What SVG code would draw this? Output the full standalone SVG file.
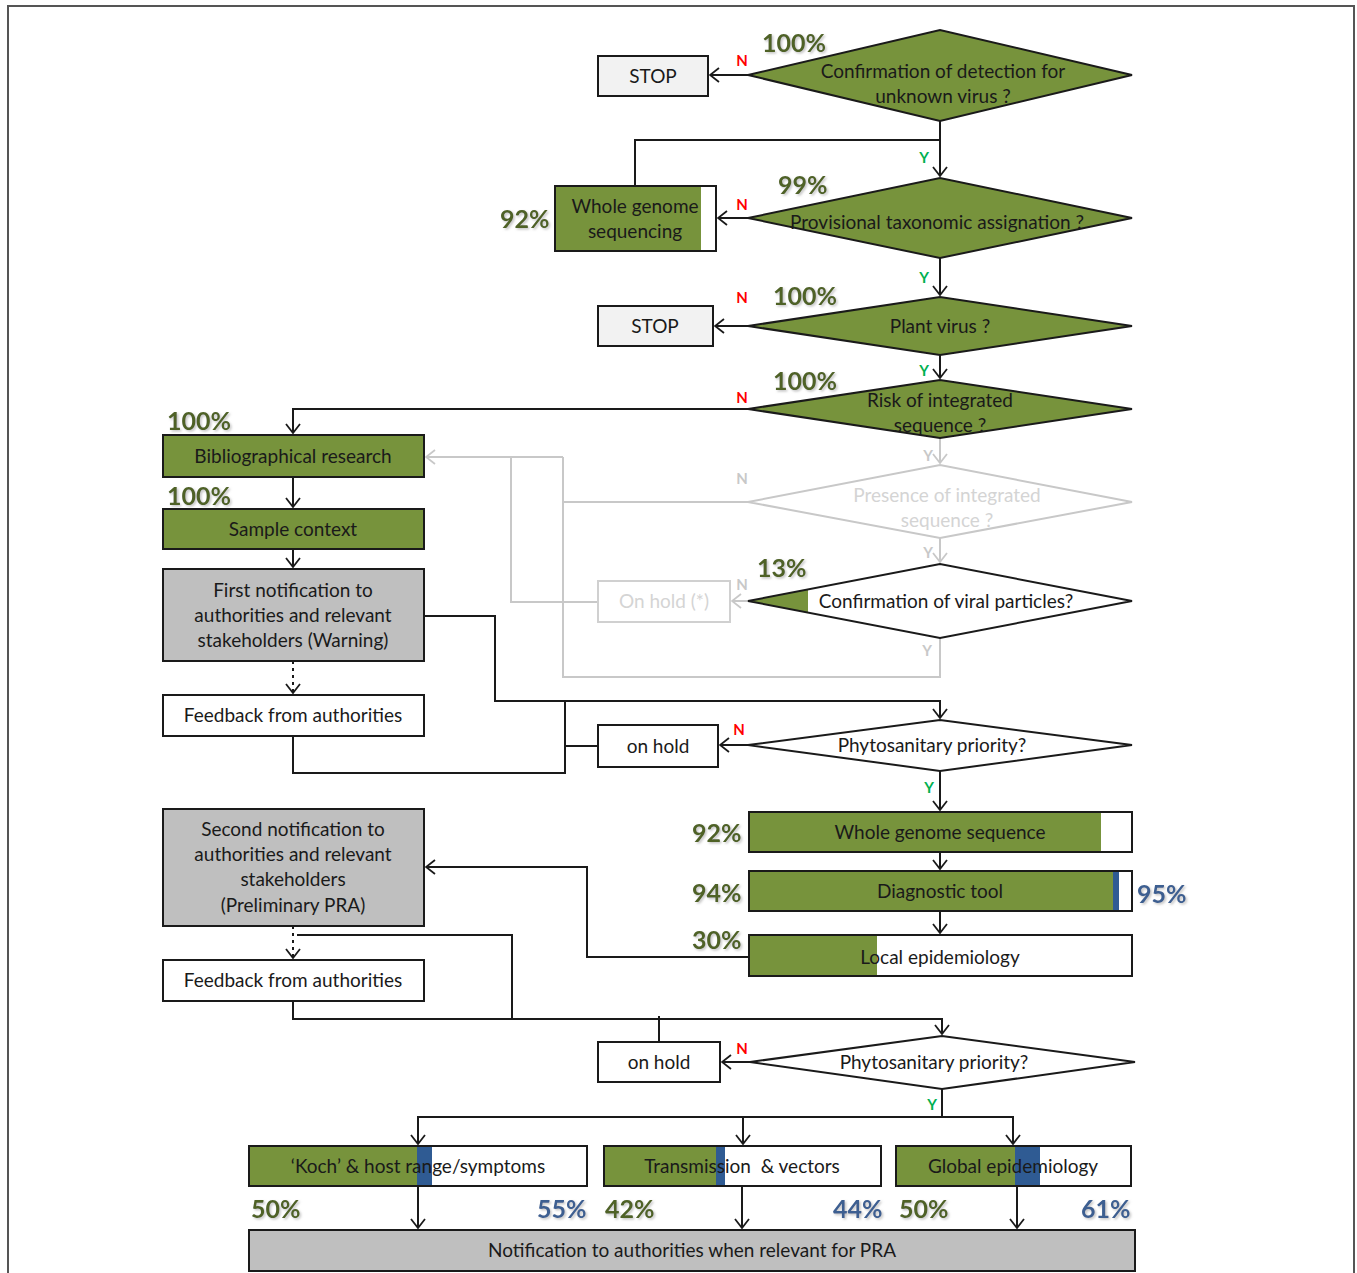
<svg xmlns="http://www.w3.org/2000/svg" width="1357" height="1273" viewBox="0 0 1357 1273">
<defs>
<style>
.t{font-family:Lato,"Open Sans","Liberation Sans",sans-serif;font-size:19px;fill:#1a1a1a;text-anchor:middle}
.tg{font-family:Lato,"Open Sans","Liberation Sans",sans-serif;font-size:19px;fill:#d4d4d4;text-anchor:middle}
.p{font-family:Lato,"Open Sans","Liberation Sans",sans-serif;font-size:25px;font-weight:bold;fill:#4f6228;filter:url(#sh)}
.pb{font-family:Lato,"Open Sans","Liberation Sans",sans-serif;font-size:25px;font-weight:bold;fill:#3d5f91;filter:url(#sh)}
.n{font-family:Lato,"Liberation Sans",sans-serif;font-size:15px;font-weight:bold;fill:#ff0000;text-anchor:middle}
.y{font-family:Lato,"Liberation Sans",sans-serif;font-size:15px;font-weight:bold;fill:#00b050;text-anchor:middle}
.ng{font-family:Lato,"Liberation Sans",sans-serif;font-size:15px;font-weight:bold;fill:#c8c8c8;text-anchor:middle}
.b{stroke:#1a1a1a;stroke-width:2}
.g{fill:#77933c}
.bl{fill:#2f5b93}
.c{fill:none;stroke:#1a1a1a;stroke-width:2}
.cg{fill:none;stroke:#c8c8c8;stroke-width:2}
</style>
<filter id="sh" x="-10%" y="-10%" width="130%" height="140%">
<feDropShadow dx="1.5" dy="1.5" stdDeviation="1" flood-color="#999" flood-opacity="0.6"/>
</filter>
<marker id="a" viewBox="0 0 11 16" refX="10" refY="8" markerWidth="11" markerHeight="16" markerUnits="userSpaceOnUse" orient="auto">
<path d="M1,1 L10,8 L1,15" fill="none" stroke="#1a1a1a" stroke-width="1.8"/>
</marker>
<marker id="ag" viewBox="0 0 11 16" refX="10" refY="8" markerWidth="11" markerHeight="16" markerUnits="userSpaceOnUse" orient="auto">
<path d="M1,1 L10,8 L1,15" fill="none" stroke="#c8c8c8" stroke-width="1.8"/>
</marker>
</defs>
<rect x="0" y="0" width="1357" height="1273" fill="#ffffff"/>
<rect x="8" y="6" width="1346" height="1280" fill="none" stroke="#555" stroke-width="2"/>

<g id="connectors">
<!-- grey connectors -->
<path class="cg" d="M563,457 H426" marker-end="url(#ag)"/>
<path class="cg" d="M598,602 H511 V457"/>
<path class="cg" d="M748,502 H563"/>
<path class="cg" d="M563,457 V677 H940 V638"/>
<path class="cg" d="M940,438 V463" marker-end="url(#ag)"/>
<path class="cg" d="M940,538 V562" marker-end="url(#ag)"/>
<path class="cg" d="M748,601 H732" marker-end="url(#ag)"/>
<!-- black connectors -->
<path class="c" d="M748,75 H710" marker-end="url(#a)"/>
<path class="c" d="M940,121 V176" marker-end="url(#a)"/>
<path class="c" d="M635,186 V140 H940"/>
<path class="c" d="M748,218 H718" marker-end="url(#a)"/>
<path class="c" d="M940,258 V295" marker-end="url(#a)"/>
<path class="c" d="M748,326 H715" marker-end="url(#a)"/>
<path class="c" d="M940,355 V378" marker-end="url(#a)"/>
<path class="c" d="M748,409 H293 V433" marker-end="url(#a)"/>
<path class="c" d="M293,477 V507" marker-end="url(#a)"/>
<path class="c" d="M293,549 V567" marker-end="url(#a)"/>
<path class="c" d="M293,661 V693" stroke-dasharray="3,4" marker-end="url(#a)"/>
<path class="c" d="M424,616 H495 V701 H940 V718" marker-end="url(#a)"/>
<path class="c" d="M293,736 V773 H565 V701"/>
<path class="c" d="M598,746 H565"/>
<path class="c" d="M748,745 H720" marker-end="url(#a)"/>
<path class="c" d="M940,771 V810" marker-end="url(#a)"/>
<path class="c" d="M940,852 V869" marker-end="url(#a)"/>
<path class="c" d="M940,911 V933" marker-end="url(#a)"/>
<path class="c" d="M749,957 H587 V867 H426" marker-end="url(#a)"/>
<path class="c" d="M293,926 V958" stroke-dasharray="3,4" marker-end="url(#a)"/>
<path class="c" d="M297,935 H512 V1019"/>
<path class="c" d="M293,1001 V1019 H942 V1034" marker-end="url(#a)"/>
<path class="c" d="M659,1042 V1016"/>
<path class="c" d="M750,1062 H722" marker-end="url(#a)"/>
<path class="c" d="M942,1089 V1117"/>
<path class="c" d="M418,1144 V1117 H1013 V1144" marker-end="url(#a)"/>
<path class="c" d="M418,1117 V1144" marker-end="url(#a)"/>
<path class="c" d="M743,1117 V1144" marker-end="url(#a)"/>
<path class="c" d="M418,1186 V1228" marker-end="url(#a)"/>
<path class="c" d="M742,1186 V1228" marker-end="url(#a)"/>
<path class="c" d="M1017,1186 V1228" marker-end="url(#a)"/>
<!-- N / Y labels -->
<text class="n" x="742" y="66">N</text>
<text class="y" x="924" y="163">Y</text>
<text class="n" x="742" y="210">N</text>
<text class="y" x="924" y="283">Y</text>
<text class="n" x="742" y="303">N</text>
<text class="y" x="924" y="376">Y</text>
<text class="n" x="742" y="403">N</text>
<text class="ng" x="928" y="461">Y</text>
<text class="ng" x="742" y="484">N</text>
<text class="ng" x="928" y="558">Y</text>
<text class="ng" x="742" y="590">N</text>
<text class="ng" x="927" y="656">Y</text>
<text class="n" x="739" y="735">N</text>
<text class="y" x="929" y="793">Y</text>
<text class="n" x="742" y="1054">N</text>
<text class="y" x="932" y="1110">Y</text>
</g>

<g id="d1">
<polygon class="g b" points="748,75 940,30 1132,75 940,121"/>
<text class="t" x="943" y="78">Confirmation of detection for</text>
<text class="t" x="943" y="103">unknown virus ?</text>
<text class="p" x="762" y="52">100%</text>
</g>
<g id="stop1">
<rect x="598" y="56" width="110" height="40" fill="#f2f2f2" stroke="#1a1a1a" stroke-width="2"/>
<text class="t" x="653" y="83">STOP</text>
</g>
<g id="d2">
<polygon class="g b" points="748,218 940,178 1132,218 940,258"/>
<text class="t" x="937" y="229">Provisional taxonomic assignation ?</text>
<text class="p" x="778" y="194">99%</text>
</g>
<g id="wgs1">
<rect x="555" y="186" width="161" height="65" fill="#ffffff"/>
<rect x="555" y="186" width="146" height="65" class="g"/>
<rect x="555" y="186" width="161" height="65" fill="none" stroke="#1a1a1a" stroke-width="2"/>
<text class="t" x="635" y="213">Whole genome</text>
<text class="t" x="635" y="238">sequencing</text>
<text class="p" x="500" y="228">92%</text>
</g>
<g id="d3">
<polygon class="g b" points="748,326 940,297 1132,326 940,355"/>
<text class="t" x="940" y="333">Plant virus ?</text>
<text class="p" x="773" y="305">100%</text>
</g>
<g id="stop2">
<rect x="598" y="306" width="115" height="40" fill="#f2f2f2" stroke="#1a1a1a" stroke-width="2"/>
<text class="t" x="655" y="333">STOP</text>
</g>
<g id="d4">
<polygon class="g b" points="748,409 940,380 1132,409 940,438"/>
<text class="t" x="940" y="407">Risk of integrated</text>
<text class="t" x="940" y="432">sequence ?</text>
<text class="p" x="773" y="390">100%</text>
</g>
<g id="d5">
<polygon points="748,502 940,465 1132,502 940,538" fill="#ffffff" stroke="#c8c8c8" stroke-width="2"/>
<text class="tg" x="947" y="502">Presence of integrated</text>
<text class="tg" x="947" y="527">sequence ?</text>
</g>
<g id="d6">
<polygon points="748,601 940,564 1132,601 940,638" fill="#ffffff"/>
<polygon points="748,601 808,589.4 808,612.6" class="g"/>
<polygon points="748,601 940,564 1132,601 940,638" fill="none" stroke="#1a1a1a" stroke-width="2"/>
<text class="t" x="946" y="608">Confirmation of viral particles?</text>
<text class="p" x="757" y="577">13%</text>
</g>
<g id="onholdstar">
<rect x="598" y="581" width="132" height="41" fill="#ffffff" stroke="#d0d0d0" stroke-width="2"/>
<text class="tg" x="664" y="608">On hold (*)</text>
</g>
<g id="bib">
<rect x="163" y="435" width="261" height="42" class="g b"/>
<text class="t" x="293" y="463">Bibliographical research</text>
<text class="p" x="167" y="430">100%</text>
</g>
<g id="sample">
<rect x="163" y="509" width="261" height="40" class="g b"/>
<text class="t" x="293" y="536">Sample context</text>
<text class="p" x="167" y="505">100%</text>
</g>
<g id="notif1">
<rect x="163" y="569" width="261" height="92" fill="#bfbfbf" stroke="#1a1a1a" stroke-width="2"/>
<text class="t" x="293" y="597">First notification to</text>
<text class="t" x="293" y="622">authorities and relevant</text>
<text class="t" x="293" y="647">stakeholders (Warning)</text>
</g>
<g id="feedback1">
<rect x="163" y="695" width="261" height="41" fill="#ffffff" stroke="#1a1a1a" stroke-width="2"/>
<text class="t" x="293" y="722">Feedback from authorities</text>
</g>
<g id="d7">
<polygon points="748,745 940,720 1132,745 940,771" fill="#ffffff" stroke="#1a1a1a" stroke-width="2"/>
<text class="t" x="932" y="752">Phytosanitary priority?</text>
</g>
<g id="onhold1">
<rect x="598" y="725" width="120" height="42" fill="#ffffff" stroke="#1a1a1a" stroke-width="2"/>
<text class="t" x="658" y="753">on hold</text>
</g>
<g id="wgs2">
<rect x="749" y="812" width="383" height="40" fill="#ffffff"/>
<rect x="749" y="812" width="352" height="40" class="g"/>
<rect x="749" y="812" width="383" height="40" fill="none" stroke="#1a1a1a" stroke-width="2"/>
<text class="t" x="940" y="839">Whole genome sequence</text>
<text class="p" x="692" y="842">92%</text>
</g>
<g id="diag">
<rect x="749" y="871" width="383" height="40" fill="#ffffff"/>
<rect x="749" y="871" width="364" height="40" class="g"/>
<rect x="1113" y="871" width="6" height="40" class="bl"/>
<rect x="749" y="871" width="383" height="40" fill="none" stroke="#1a1a1a" stroke-width="2"/>
<text class="t" x="940" y="898">Diagnostic tool</text>
<text class="p" x="692" y="902">94%</text>
<text class="pb" x="1137" y="903">95%</text>
</g>
<g id="localepi">
<rect x="749" y="935" width="383" height="41" fill="#ffffff"/>
<rect x="749" y="935" width="128" height="41" class="g"/>
<rect x="749" y="935" width="383" height="41" fill="none" stroke="#1a1a1a" stroke-width="2"/>
<text class="t" x="940" y="964">Local epidemiology</text>
<text class="p" x="692" y="949">30%</text>
</g>
<g id="notif2">
<rect x="163" y="809" width="261" height="117" fill="#bfbfbf" stroke="#1a1a1a" stroke-width="2"/>
<text class="t" x="293" y="836">Second notification to</text>
<text class="t" x="293" y="861">authorities and relevant</text>
<text class="t" x="293" y="886">stakeholders</text>
<text class="t" x="293" y="912">(Preliminary PRA)</text>
</g>
<g id="feedback2">
<rect x="163" y="960" width="261" height="41" fill="#ffffff" stroke="#1a1a1a" stroke-width="2"/>
<text class="t" x="293" y="987">Feedback from authorities</text>
</g>
<g id="d8">
<polygon points="750,1062 942,1036 1135,1062 942,1089" fill="#ffffff" stroke="#1a1a1a" stroke-width="2"/>
<text class="t" x="934" y="1069">Phytosanitary priority?</text>
</g>
<g id="onhold2">
<rect x="598" y="1042" width="122" height="40" fill="#ffffff" stroke="#1a1a1a" stroke-width="2"/>
<text class="t" x="659" y="1069">on hold</text>
</g>
<g id="koch">
<rect x="249" y="1146" width="338" height="40" fill="#ffffff"/>
<rect x="249" y="1146" width="168" height="40" class="g"/>
<rect x="417" y="1146" width="15" height="40" class="bl"/>
<rect x="249" y="1146" width="338" height="40" fill="none" stroke="#1a1a1a" stroke-width="2"/>
<text class="t" x="418" y="1173">‘Koch’ &amp; host range/symptoms</text>
<text class="p" x="251" y="1218">50%</text>
<text class="pb" x="537" y="1218">55%</text>
</g>
<g id="transmission">
<rect x="604" y="1146" width="277" height="40" fill="#ffffff"/>
<rect x="604" y="1146" width="112" height="40" class="g"/>
<rect x="716" y="1146" width="9" height="40" class="bl"/>
<rect x="604" y="1146" width="277" height="40" fill="none" stroke="#1a1a1a" stroke-width="2"/>
<text class="t" x="742" y="1173" xml:space="preserve">Transmission  &amp; vectors</text>
<text class="p" x="605" y="1218">42%</text>
<text class="pb" x="833" y="1218">44%</text>
</g>
<g id="globalepi">
<rect x="896" y="1146" width="235" height="40" fill="#ffffff"/>
<rect x="896" y="1146" width="119" height="40" class="g"/>
<rect x="1015" y="1146" width="25" height="40" class="bl"/>
<rect x="896" y="1146" width="235" height="40" fill="none" stroke="#1a1a1a" stroke-width="2"/>
<text class="t" x="1013" y="1173">Global epidemiology</text>
<text class="p" x="899" y="1218">50%</text>
<text class="pb" x="1081" y="1218">61%</text>
</g>
<g id="notif3">
<rect x="249" y="1230" width="886" height="41" fill="#bfbfbf" stroke="#1a1a1a" stroke-width="2"/>
<text class="t" x="692" y="1257">Notification to authorities when relevant for PRA</text>
</g>
</svg>
